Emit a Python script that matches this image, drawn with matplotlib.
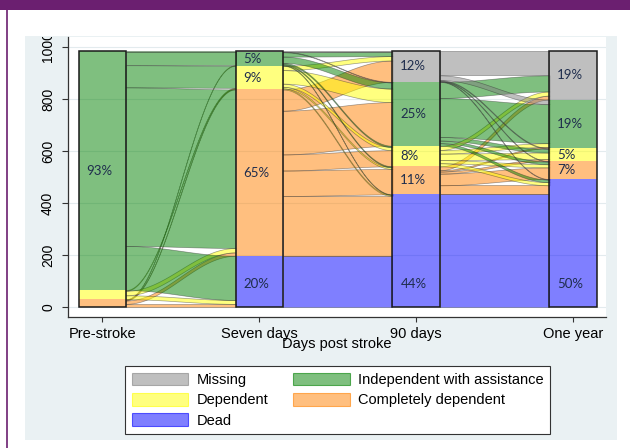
import numpy as np
import matplotlib
matplotlib.use("Agg")
import matplotlib.pyplot as plt
from matplotlib.patches import Rectangle, Patch
from matplotlib.lines import Line2D
from matplotlib.colors import to_rgba
from matplotlib.transforms import Bbox, TransformedBbox

plt.rcParams["font.family"] = ["Liberation Sans", "DejaVu Sans"]

# Time points and states (states listed bottom -> top in every bar)
timepoints = ["Pre-stroke", "Seven days", "90 days", "One year"]
states = ["Dead", "Completely dependent", "Dependent",
          "Independent with assistance", "Missing"]
state_colors = ["#0000ff", "#ff8000", "#ffff00", "#008000", "#808080"]

# Transitions between time points (rows = state before, cols = state after)
trans_pre_7d = [
    [0, 0, 0, 0, 0],
    [12, 13, 3, 2, 0],
    [15, 17, 3, 0, 0],
    [170, 610, 85, 50, 5],
    [0, 0, 0, 0, 0],
]
trans_7d_90d = [
    [197, 0, 0, 0, 0],
    [230, 98, 62, 168, 82],
    [4, 6, 12, 52, 17],
    [2, 4, 5, 24, 17],
    [0, 0, 0, 2, 3],
]
trans_90d_1y = [
    [433, 0, 0, 0, 0],
    [35, 45, 8, 5, 15],
    [12, 12, 25, 14, 16],
    [10, 10, 14, 150, 62],
    [2, 2, 3, 18, 94],
]

transitions = [np.array(t) for t in (trans_pre_7d, trans_7d_90d, trans_90d_1y)]
totals = [transitions[0].sum(axis=1)] + [t.sum(axis=0) for t in transitions]
N = totals[0].sum()

BAR_W = 0.30
DEAD_LABEL_Y = 90
xpos = np.arange(1, len(timepoints) + 1)
n = len(states)

fig = plt.figure(figsize=(6.3, 4.48), dpi=100)
fig.patch.set_facecolor("white")

# moldura: faixa roxa, linha lateral e painel cinza-azulado
purple = "#6b1f70"
fig.add_artist(Rectangle((0, 1 - 10 / 448), 1, 10 / 448, transform=fig.transFigure,
                         facecolor=purple, lw=0, zorder=-2))
fig.add_artist(Line2D([7 / 630, 7 / 630], [0, 1 - 10 / 448], transform=fig.transFigure,
                      color=purple, lw=1.2, zorder=-2))
fig.add_artist(Rectangle((25 / 630, 1 - 440 / 448), 592 / 630, 404 / 448,
                         transform=fig.transFigure, facecolor="#eaf1f3", lw=0, zorder=-1))

ax = fig.add_axes([68 / 630, 1 - 317 / 448, 538 / 630, 280 / 448])
ax.set_facecolor("white")

# -------------------------------
# fluxos entre momentos
# -------------------------------
t = np.linspace(0, 1, 100)
s = (1 - np.cos(np.pi * t)) / 2
for k, T in enumerate(transitions):
    x0 = xpos[k] + BAR_W / 2
    x1 = xpos[k + 1] - BAR_W / 2
    xx = x0 + (x1 - x0) * t
    left_off = np.concatenate([[0], np.cumsum(totals[k])[:-1]]).astype(float)
    right_off = np.concatenate([[0], np.cumsum(totals[k + 1])[:-1]]).astype(float)
    lpos = {}
    rpos = {}
    for i in range(n):
        for j in range(n):
            lpos[i, j] = left_off[i]
            left_off[i] += T[i, j]
    for j in range(n):
        for i in range(n):
            rpos[i, j] = right_off[j]
            right_off[j] += T[i, j]
    for i in range(n):
        for j in range(n):
            v = T[i, j]
            if v <= 0:
                continue
            bot = lpos[i, j] + (rpos[i, j] - lpos[i, j]) * s
            ax.fill_between(xx, bot, bot + v, facecolor=to_rgba(state_colors[i], 0.5),
                            edgecolor=(0.15, 0.15, 0.15, 0.45), linewidth=0.5, zorder=2)

# -------------------------------
# barras empilhadas
# -------------------------------
for k, x in enumerate(xpos):
    base = 0
    for i, c in enumerate(totals[k]):
        if c > 0:
            ax.add_patch(Rectangle((x - BAR_W / 2, base), BAR_W, c,
                                   facecolor=to_rgba(state_colors[i], 0.5), lw=0, zorder=3))
            pct = 100 * c / N
            if pct >= 4.5:
                ypos = DEAD_LABEL_Y if i == 0 else base + c / 2
                ax.text(x - 0.1, ypos, f"{pct:.0f}%", ha="left", va="center",
                        fontsize=9.5, family="Lato", color="#1f2d4d", zorder=5)
        base += c
    ax.add_patch(Rectangle((x - BAR_W / 2, 0), BAR_W, base, fill=False,
                           edgecolor="#1a1a1a", lw=1.1, zorder=4))

ax.set_xlim(0.783, 4.21)
ax.set_ylim(-38.5, 1038.5)
ax.set_xticks(xpos)
ax.set_xticklabels(timepoints, fontsize=10.5)
ax.set_yticks([0, 200, 400, 600, 800, 1000])
ax.tick_params(axis="y", labelrotation=90, labelsize=10, length=4.3, pad=5,
               color="#333333", width=0.8)
ax.tick_params(axis="x", length=3.6, pad=3.5, color="#333333", width=0.8)
for lbl in ax.get_yticklabels():
    lbl.set_va("center")
    lbl.set_clip_box(TransformedBbox(Bbox.from_extents(0, 0, 1, 1 - 37 / 448), fig.transFigure))
    lbl.set_clip_on(True)

for side in ["top", "right"]:
    ax.spines[side].set_visible(False)
for side in ["left", "bottom"]:
    ax.spines[side].set_color("#333333")
    ax.spines[side].set_linewidth(0.9)
ax.set_axisbelow(True)
ax.yaxis.grid(True, color="#e3ebee", lw=0.8)

fig.text(337 / 630, 1 - 344 / 448, "Days post stroke", ha="center", va="center", fontsize=10.5)

# -------------------------------
# legenda
# -------------------------------
order = [4, 2, 0, 3, 1]
handles = [Patch(facecolor=to_rgba(state_colors[i], 0.5),
                 edgecolor=to_rgba(state_colors[i], 0.6), lw=0.8, label=states[i])
           for i in order]
leg = fig.legend(handles=handles, loc="upper center", ncol=2,
                 bbox_to_anchor=(337.5 / 630, 1 - 366 / 448), fontsize=10.5,
                 frameon=True, fancybox=False, framealpha=1, edgecolor="#333333",
                 handlelength=3.9, handleheight=0.95, handletextpad=0.55,
                 columnspacing=1.7, labelspacing=0.42, borderpad=0.45,
                 borderaxespad=0)
leg.get_frame().set_linewidth(0.8)

fig.savefig("out.png", dpi=100)
